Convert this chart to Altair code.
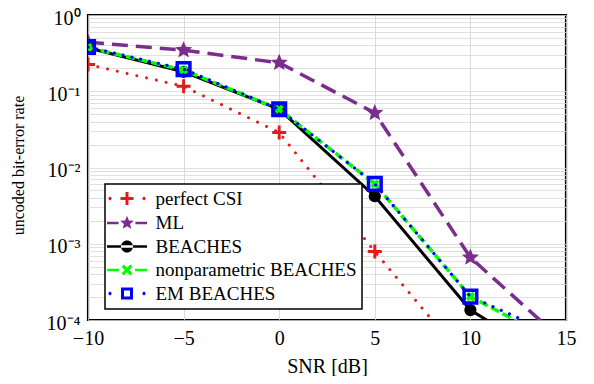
import math
import altair as alt
import pandas as pd

# ---------------- data ----------------
snr = [-10, -5, 0, 5, 10, 15]
series_names = ["perfect CSI", "ML", "BEACHES", "nonparametric BEACHES", "EM BEACHES"]
perfect_csi = [0.224, 0.116, 0.0287, 0.00079, 2.5e-5, 1e-6]
ml = [0.44, 0.346, 0.236, 0.052, 0.00066, 4.9e-5]
beaches = [0.37, 0.18, 0.058, 0.0042, 0.000135, 2.3e-5]
nonparametric = [0.375, 0.19, 0.058, 0.0061, 0.000203, 4.4e-5]
em_beaches = [0.38, 0.195, 0.058, 0.0061, 0.000203, 5.6e-5]

x_ticks = [-10, -5, 0, 5, 10, 15]
y_decades = [1e-4, 1e-3, 1e-2, 1e-1, 1.0]
y_decade_labels = ["10⁻⁴", "10⁻³", "10⁻²", "10⁻¹", "10⁰"]

colors = ["#e41a1c", "#7b2d8e", "#000000", "#00ff00", "#0000ff"]

values = [perfect_csi, ml, beaches, nonparametric, em_beaches]
rows = []
for name, vals in zip(series_names, values):
    for s, v in zip(snr, vals):
        rows.append({"snr": s, "ber": v, "series": name})
df = pd.DataFrame(rows)
legend_df = pd.DataFrame({"series": series_names})

FONT = "Liberation Serif"

# ---------------- symbol geometry helpers (unit = scale px) ----------------
def f(v):
    return f"{v:.3f}"

def make_helpers(u):
    def rect(x0, x1, t):
        return f"M{f(x0/u)},{f(-t/u)}H{f(x1/u)}V{f(t/u)}H{f(x0/u)}Z"

    def circ(cx, r):
        return (f"M{f((cx - r)/u)},0A{f(r/u)},{f(r/u)} 0 1,0 {f((cx + r)/u)},0"
                f"A{f(r/u)},{f(r/u)} 0 1,0 {f((cx - r)/u)},0Z")

    def plus(a, t):
        a, t = a / u, t / u
        return (f"M{f(-a)},{f(-t)}H{f(-t)}V{f(-a)}H{f(t)}V{f(-t)}H{f(a)}"
                f"V{f(t)}H{f(t)}V{f(a)}H{f(-t)}V{f(t)}H{f(-a)}Z")

    def star(ro, ri):
        pts = []
        for k in range(10):
            r = (ro if k % 2 == 0 else ri) / u
            ang = -math.pi / 2 + k * math.pi / 5
            pts.append(f"{f(r * math.cos(ang))},{f(r * math.sin(ang))}")
        return "M" + "L".join(pts) + "Z"

    def xbar(a, t):
        out = ""
        for ang in (math.pi / 4, -math.pi / 4):
            c, s = math.cos(ang), math.sin(ang)
            corners = [(-a, -t), (a, -t), (a, t), (-a, t)]
            pts = [f"{f((x * c - y * s)/u)},{f((x * s + y * c)/u)}" for x, y in corners]
            out += "M" + "L".join(pts) + "Z"
        return out

    def ring(o, i):
        o, i = o / u, i / u
        return (f"M{f(-o)},{f(-o)}H{f(o)}V{f(o)}H{f(-o)}Z"
                f"M{f(-i)},{f(-i)}V{f(i)}H{f(i)}V{f(-i)}Z")

    return rect, circ, plus, star, xbar, ring

# legend symbols: symbolSize 144 -> one path unit = 6 px
rect, circ, plus, star, xbar, ring = make_helpers(6.0)
T = 1.3
legend_paths = [
    circ(-17, 1.6) + circ(17, 1.6) + plus(6.5, 1.5),
    rect(-20, -8.4, T) + rect(8.4, 20, T) + star(7.2, 3.2),
    rect(-20, 20, T) + circ(0, 6.0),
    rect(-20, -8, T) + rect(8, 20, T) + xbar(6.2, 1.6),
    circ(-17, 1.6) + circ(17, 1.6) + ring(6.0, 3.0),
]

# plot markers: unit = 1
_, _, plus1, star1, _, _ = make_helpers(1.0)

# ---------------- scales / axes ----------------
y_grid_values = [m * d for d in y_decades[:-1] for m in range(1, 10)] + [1.0]
label_expr = " : ".join(
    f"datum.value == {v} ? '{lab}'" for v, lab in zip(y_decades, y_decade_labels)
) + " : ''"

x_enc = alt.X(
    "snr:Q",
    scale=alt.Scale(domain=[-10, 15], nice=False, zero=False),
    axis=alt.Axis(
        values=x_ticks, title="SNR [dB]", grid=True, gridColor="#d0d0d0",
        gridWidth=0.8, domain=False, ticks=False, labelPadding=8,
        labelFlush=False, labelBound=False,
        labelExpr="replace(datum.label, '-', '−')",
        labelFont=FONT, labelFontSize=20, labelColor="black",
        titleFont=FONT, titleFontSize=20, titleFontWeight="normal",
        titleColor="black", titleY=52, titleBaseline="alphabetic",
    ),
)
y_enc = alt.Y(
    "ber:Q",
    scale=alt.Scale(type="log", domain=[1e-4, 1], nice=False),
    axis=alt.Axis(
        values=y_grid_values, title="uncoded bit-error rate", grid=True,
        gridColor="#d8d8d8", gridWidth=0.8, domain=False, ticks=False,
        labelPadding=8, labelOffset=3, labelFlush=False, labelBound=False,
        labelExpr=label_expr, labelFont=FONT, labelFontSize=20,
        labelColor="black",
        titleFont=FONT, titleFontSize=16, titleFontWeight="normal",
        titleColor="black", titleX=-70, titleY=150, titleBaseline="middle",
    ),
)

base = alt.Chart(df).encode(x=x_enc, y=y_enc)

def sel(name):
    return base.transform_filter(alt.datum.series == name)

line_styles = {
    "perfect CSI": dict(strokeDash=[0.01, 10], strokeCap="round", strokeWidth=3),
    "ML": dict(strokeDash=[16, 8], strokeWidth=3.5),
    "BEACHES": dict(strokeWidth=3),
    "nonparametric BEACHES": dict(strokeDash=[9, 4], strokeWidth=3.5),
    "EM BEACHES": dict(strokeDash=[0.01, 9], strokeCap="round", strokeWidth=3.2),
}

point_styles = {
    "perfect CSI": dict(shape=plus1(1, 0.21), filled=True, size=196),
    "ML": dict(shape=star1(1, 0.45), filled=True, size=324),
    "BEACHES": dict(shape="circle", filled=True, size=150),
    "nonparametric BEACHES": dict(shape="cross", angle=45, filled=True, size=90),
    "EM BEACHES": dict(shape="square", filled=False, size=160, strokeWidth=3.5),
}

layers = []
for name, col in zip(series_names, colors):
    layers.append(sel(name).mark_line(color=col, clip=True, **line_styles[name]))
    layers.append(sel(name).mark_point(color=col, clip=True, opacity=1,
                                       **point_styles[name]))

legend_props = dict(
    orient="none", legendX=17, legendY=169, title=None,
    fillColor="white", strokeColor="black", padding=5,
    symbolSize=144, symbolOpacity=1, labelFont=FONT, labelFontSize=19,
    labelColor="black", symbolOffset=7.5, labelOffset=19, labelLimit=400,
    rowPadding=3.5,
)

# legend only: no marks drawn (all rows filtered), entries come from the scale domain
legend_layer = alt.Chart(legend_df).transform_filter("false").mark_point(
    filled=True, opacity=1
).encode(
    color=alt.Color(
        "series:N",
        scale=alt.Scale(domain=series_names, range=colors),
        legend=alt.Legend(**legend_props),
    ),
    shape=alt.Shape(
        "series:N",
        scale=alt.Scale(domain=series_names, range=legend_paths),
        legend=alt.Legend(**legend_props),
    ),
)

chart = alt.layer(*layers, legend_layer).properties(
    width=478,
    height=305,
    autosize=alt.AutoSizeParams(type="none"),
    padding={"left": 80, "top": 7, "right": 20, "bottom": 56},
).configure(
    background="white", font=FONT
).configure_view(
    stroke="black", strokeWidth=2.2
).configure_legend(
    strokeWidth=1.5, labelFont=FONT
).configure_axis(
    labelFont=FONT, titleFont=FONT
)

chart.save("out.html", embed_options={"renderer": "svg", "actions": False})
